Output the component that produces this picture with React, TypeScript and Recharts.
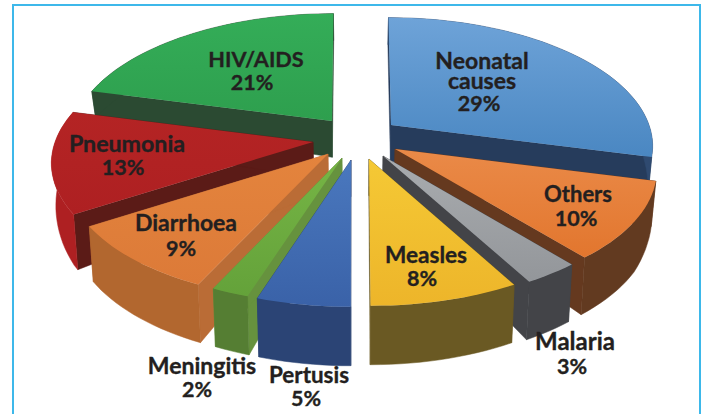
// Causes of under-five deaths: exploded 3D pie. Recharts works out the slice angles,
// the custom shape below projects each slice onto a tilted plane with some depth.
import React from 'react';
import { PieChart, Pie } from 'recharts';

const causes = ['Neonatal causes', 'Others', 'Malaria', 'Measles', 'Pertusis', 'Meningitis', 'Diarrhoea', 'Pneumonia', 'HIV/AIDS'];
const shares = [29, 10, 3, 8, 5, 2, 9, 13, 21];

const clockwise = causes.map((name, i) => ({ name, value: shares[i] }));
const counterClockwise = [...clockwise].reverse();

// styling per slice, same order as causes
const topLight = ['#6EA3D8', '#EA8A48', '#A9ACAF', '#F5C935', '#4A78BE', '#76B545', '#E4843D', '#B42424', '#34AD58'];
const topDark = ['#4A87C2', '#E2762E', '#93969A', '#EDB52A', '#3A62A8', '#64A23A', '#DC7A38', '#AE2022', '#2E9F4E'];
const wallColor = ['#263C5C', '#65391F', '#434448', '#6B5A22', '#2A4270', '#66923E', '#BA6C36', '#5B1B17', '#2B4A32'];
const outerColor = ['#2F4A70', '#623A20', '#434448', '#6A5923', '#2B4475', '#557E33', '#B2672F', '#AE2022', '#2B4A32'];
const pulls = [[38, -12], [42, 12], [30, 19], [16, 22], [-2, 23], [-11, 21], [-25, 17], [-40, 5], [-21, -16]];

// label anchor: centre x, baseline per line (last one is the percentage), name font size
const labelLayout = [
  { lines: ['Neonatal', 'causes'], x: 482, ys: [69, 89, 111], pctX: 479, size: 23 },
  { lines: ['Others'], x: 578, ys: [202, 226], pctX: 576, size: 22 },
  { lines: ['Malaria'], x: 575, ys: [350, 374], pctX: 572, size: 24 },
  { lines: ['Measles'], x: 426, ys: [263, 286], pctX: 422, size: 22.6 },
  { lines: ['Pertusis'], x: 309, ys: [383, 406], pctX: 306, size: 22.4 },
  { lines: ['Meningitis'], x: 202, ys: [374, 397], pctX: 197, size: 23 },
  { lines: ['Diarrhoea'], x: 186, ys: [231, 256], pctX: 181, size: 23 },
  { lines: ['Pneumonia'], x: 127, ys: [152, 175], pctX: 123, size: 23.2 },
  { lines: ['HIV/AIDS'], x: 256, ys: [67, 90], pctX: 252, size: 21.7 },
];

const TILT_Y = 124;
const PERSPECTIVE = 0.155;

const toRad = (d: number) => (d * Math.PI) / 180;

const depthAt = (v: number) => {
  if (v < -0.25) return 27;
  return v < 0.5 ? 27 + (v + 0.25) * 37 : 55 + (v - 0.5) * 8;
};

const Slice3D = ({ side, ...props }: any) => {
  const name = props.payload?.name ?? props.name;
  const idx = causes.indexOf(name);
  const { cx, cy, outerRadius, startAngle, endAngle } = props;
  // recharts angles run counter-clockwise from 3 o'clock; turn into clockwise from 12
  let a0 = 90 - Math.max(startAngle, endAngle);
  let a1 = 90 - Math.min(startAngle, endAngle);
  if (a0 < 0) {
    a0 += 360;
    a1 += 360;
  }
  const mid = (a0 + a1) / 2;
  const isRight = mid < 180;
  if ((side === 'right') !== isRight) return null;

  const [px, py] = pulls[idx];
  const top = (a: number, rf: number) => {
    const u = Math.sin(toRad(a)) * rf;
    const v = -Math.cos(toRad(a)) * rf;
    const s = 1 / (1 - PERSPECTIVE * v);
    return { x: cx + px + outerRadius * u * s + px * (s - 1) * 0.5, y: cy + py + TILT_Y * v * s, v };
  };
  const bottom = (p: { x: number; y: number; v: number }) => ({
    x: cx + (p.x - cx) * 0.985,
    y: p.y + depthAt(p.v),
    v: p.v,
  });
  const path = (pts: { x: number; y: number }[]) =>
    'M' + pts.map((p) => `${p.x.toFixed(1)},${p.y.toFixed(1)}`).join('L') + 'Z';

  const steps = Math.max(2, Math.ceil((a1 - a0) / 2));
  const arc: { x: number; y: number; v: number }[] = [];
  for (let i = 0; i <= steps; i++) arc.push(top(a0 + ((a1 - a0) * i) / steps, 1));
  const apex = top(mid, 0);
  const wall = (p: { x: number; y: number; v: number }) => path([apex, p, bottom(p), bottom(apex)]);

  return (
    <g>
      <path d={wall(arc[0])} fill={wallColor[idx]} stroke={wallColor[idx]} strokeWidth={0.5} />
      <path d={wall(arc[steps])} fill={wallColor[idx]} stroke={wallColor[idx]} strokeWidth={0.5} />
      <path d={path([...arc, ...arc.map(bottom).reverse()])} fill={outerColor[idx]} stroke={outerColor[idx]} strokeWidth={0.5} />
      <path d={path([apex, ...arc])} fill={`url(#top-${idx})`} />
    </g>
  );
};

const SliceLabel = ({ side, ...props }: any) => {
  const idx = causes.indexOf(props.name);
  const isRight = idx < 4;
  if ((side === 'right') !== isRight) return null;
  const l = labelLayout[idx];
  return (
    <text fontFamily="Lato, sans-serif" fontWeight={700} fontSize={21.5} fill="#231F20" stroke="#231F20" strokeWidth={0.35} textAnchor="middle">
      {l.lines.map((t, i) => (
        <tspan key={t} x={l.x} y={l.ys[i]} fontSize={l.size}>{t}</tspan>
      ))}
      <tspan x={l.pctX} y={l.ys[l.lines.length]}>{shares[idx]}%</tspan>
    </text>
  );
};

export default function App() {
  return (
    <div style={{ position: 'absolute', left: 0, top: 0, width: 705, height: 414, overflow: 'hidden', background: '#fff' }}>
      <div style={{ position: 'absolute', left: 12, top: 4, width: 685, height: 430, border: '2px solid #3DB8EA' }} />
      <div style={{ position: 'absolute', left: 0, top: 0 }}>
        <PieChart width={705} height={414} margin={{ top: 0, right: 0, bottom: 0, left: 0 }}>
          <defs>
            {causes.map((c, i) => (
              <linearGradient key={c} id={`top-${i}`} x1="0" y1="0" x2="0" y2="1">
                <stop offset="0%" stopColor={topLight[i]} />
                <stop offset="100%" stopColor={topDark[i]} />
              </linearGradient>
            ))}
          </defs>
          {/* right half paints back to front clockwise, left half counter-clockwise */}
          <Pie
            data={clockwise}
            dataKey="value"
            nameKey="name"
            cx={353}
            cy={137}
            innerRadius={0}
            outerRadius={258}
            startAngle={90}
            endAngle={-270}
            stroke="none"
            isAnimationActive={false}
            shape={(p: any) => <Slice3D {...p} side="right" />}
            label={(p: any) => <SliceLabel {...p} side="right" />}
            labelLine={false}
          />
          <Pie
            data={counterClockwise}
            dataKey="value"
            nameKey="name"
            cx={353}
            cy={137}
            innerRadius={0}
            outerRadius={258}
            startAngle={90}
            endAngle={450}
            stroke="none"
            isAnimationActive={false}
            shape={(p: any) => <Slice3D {...p} side="left" />}
            label={(p: any) => <SliceLabel {...p} side="left" />}
            labelLine={false}
          />
        </PieChart>
      </div>
    </div>
  );
}
